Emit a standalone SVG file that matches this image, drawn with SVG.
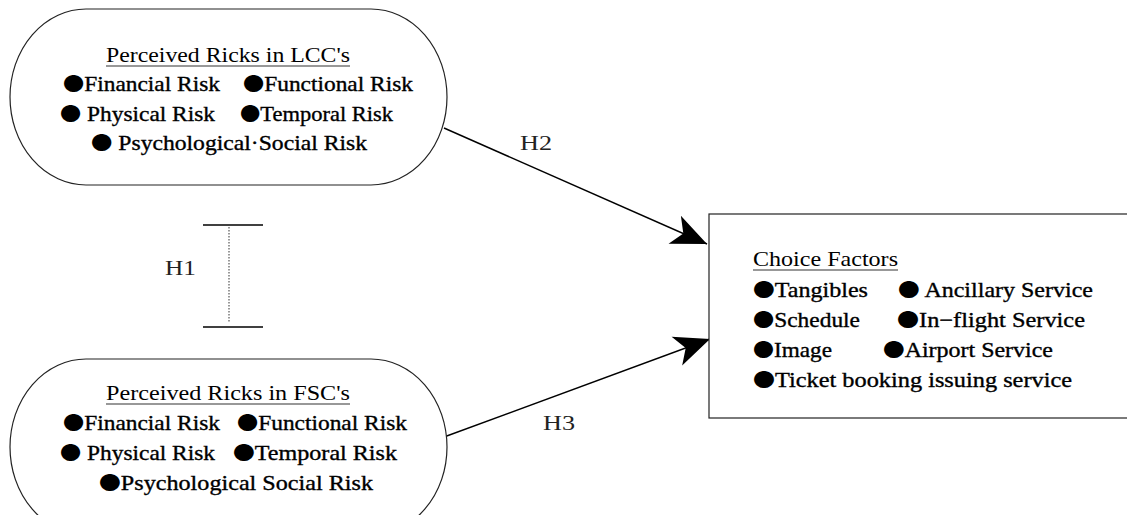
<svg xmlns="http://www.w3.org/2000/svg" width="1127" height="515" viewBox="0 0 1127 515">
<style>
.shape{fill:#fff;stroke:#222;stroke-width:1.2}
.t{font-family:"Liberation Serif","Noto Sans CJK KR",serif;font-size:21px;fill:#000;stroke:#000;stroke-width:0.35}
.b{font-family:"Noto Sans CJK KR","DejaVu Sans",sans-serif;font-size:19px;stroke:none}
.h{font-family:"Liberation Serif",serif;font-size:20px;fill:#222}
.u{stroke:#333;stroke-width:1.2}
.conn{stroke:#000;stroke-width:1.4;fill:none}
</style>
<defs>
<marker id="arr" markerUnits="userSpaceOnUse" markerWidth="40" markerHeight="40" viewBox="-32 -16 34 32" refX="0" refY="0" orient="auto">
<path d="M0,0 L-30,-13 L-22,0 L-30,13 Z" fill="#000"/>
</marker>
</defs>
<rect x="0" y="0" width="1127" height="515" fill="#fff"/>
<g id="connectors">
<line class="conn" x1="444" y1="128" x2="707" y2="244" marker-end="url(#arr)"/>
<line class="conn" x1="444" y1="437" x2="710" y2="339" marker-end="url(#arr)"/>
<line stroke="#000" stroke-width="1.4" x1="203" y1="225" x2="263" y2="225"/>
<line stroke="#000" stroke-width="1.4" x1="203" y1="327" x2="263" y2="327"/>
<line stroke="#555" stroke-width="1.2" stroke-dasharray="1.5,1.5" x1="229" y1="227" x2="229" y2="323"/>
<text class="h" x="520" y="150" textLength="32" lengthAdjust="spacingAndGlyphs">H2</text>
<text class="h" x="165" y="275" textLength="31" lengthAdjust="spacingAndGlyphs">H1</text>
<text class="h" x="543" y="430" textLength="32" lengthAdjust="spacingAndGlyphs">H3</text>
</g>
<g id="lcc">
<rect class="shape" x="10" y="9" width="437" height="176" rx="76" ry="88"/>
<text class="t" x="106" y="62" textLength="244" lengthAdjust="spacingAndGlyphs" style="stroke:none">Perceived Ricks in LCC's</text>
<line class="u" x1="106" y1="66" x2="350" y2="66"/>
<text class="t" x="63" y="91" textLength="157" lengthAdjust="spacingAndGlyphs"><tspan class="b">●</tspan>Financial Risk</text>
<text class="t" x="243" y="91" textLength="170" lengthAdjust="spacingAndGlyphs"><tspan class="b">●</tspan>Functional Risk</text>
<text class="t" x="60" y="121" textLength="155" lengthAdjust="spacingAndGlyphs"><tspan class="b">●</tspan> Physical Risk</text>
<text class="t" x="240" y="121" textLength="153" lengthAdjust="spacingAndGlyphs"><tspan class="b">●</tspan>Temporal Risk</text>
<text class="t" x="91" y="150" textLength="276" lengthAdjust="spacingAndGlyphs"><tspan class="b">●</tspan> Psychological·Social Risk</text>
</g>
<g id="fsc">
<rect class="shape" x="10" y="359" width="437" height="176" rx="76" ry="88"/>
<text class="t" x="106" y="400" textLength="244" lengthAdjust="spacingAndGlyphs" style="stroke:none">Perceived Ricks in FSC's</text>
<line class="u" x1="106" y1="404" x2="350" y2="404"/>
<text class="t" x="63" y="430" textLength="157" lengthAdjust="spacingAndGlyphs"><tspan class="b">●</tspan>Financial Risk</text>
<text class="t" x="237" y="430" textLength="170" lengthAdjust="spacingAndGlyphs"><tspan class="b">●</tspan>Functional Risk</text>
<text class="t" x="60" y="460" textLength="155" lengthAdjust="spacingAndGlyphs"><tspan class="b">●</tspan> Physical Risk</text>
<text class="t" x="233" y="460" textLength="164" lengthAdjust="spacingAndGlyphs"><tspan class="b">●</tspan>Temporal Risk</text>
<text class="t" x="99" y="490" textLength="274" lengthAdjust="spacingAndGlyphs"><tspan class="b">●</tspan>Psychological Social Risk</text>
</g>
<g id="choice">
<rect class="shape" x="709" y="214" width="430" height="204"/>
<text class="t" x="753" y="266" textLength="145" lengthAdjust="spacingAndGlyphs" style="stroke:none">Choice Factors</text>
<line class="u" x1="753" y1="270" x2="898" y2="270"/>
<text class="t" x="753" y="297" textLength="115" lengthAdjust="spacingAndGlyphs"><tspan class="b">●</tspan>Tangibles</text>
<text class="t" x="898" y="297" textLength="195" lengthAdjust="spacingAndGlyphs"><tspan class="b">●</tspan> Ancillary Service</text>
<text class="t" x="753" y="327" textLength="107" lengthAdjust="spacingAndGlyphs"><tspan class="b">●</tspan>Schedule</text>
<text class="t" x="897" y="327" textLength="188" lengthAdjust="spacingAndGlyphs"><tspan class="b">●</tspan>In−flight Service</text>
<text class="t" x="753" y="357" textLength="79" lengthAdjust="spacingAndGlyphs"><tspan class="b">●</tspan>Image</text>
<text class="t" x="883" y="357" textLength="170" lengthAdjust="spacingAndGlyphs"><tspan class="b">●</tspan>Airport Service</text>
<text class="t" x="753" y="387" textLength="319" lengthAdjust="spacingAndGlyphs"><tspan class="b">●</tspan>Ticket booking issuing service</text>
</g>
</svg>
